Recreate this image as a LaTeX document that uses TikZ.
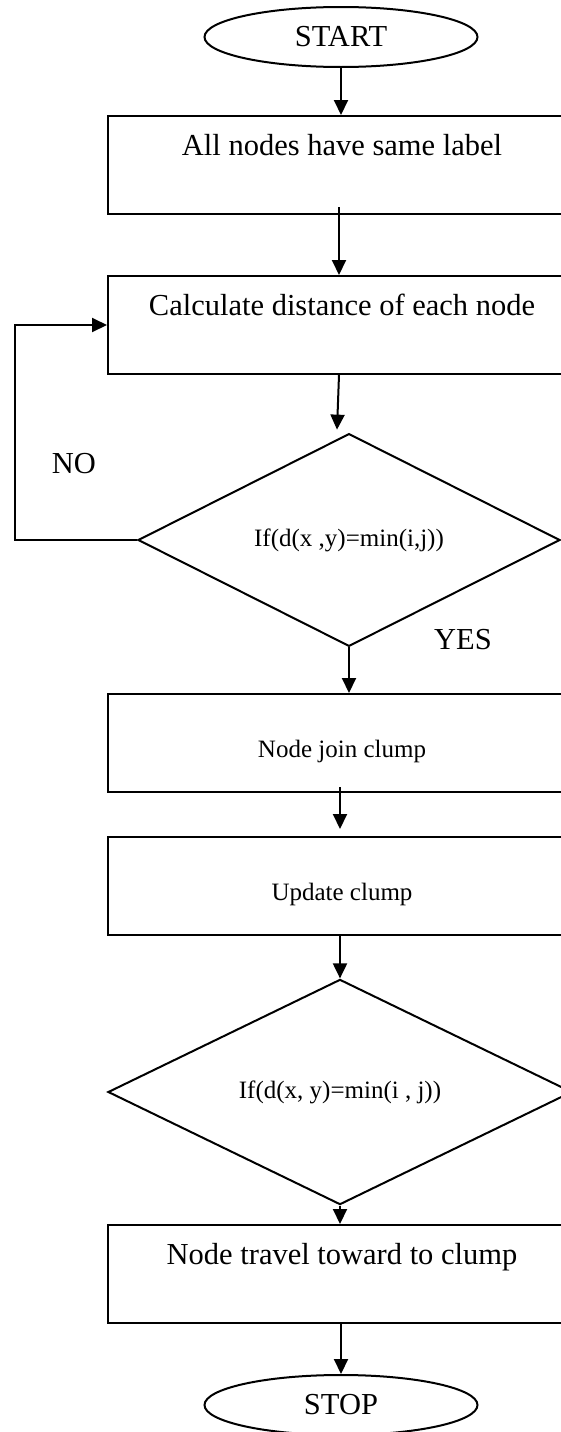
\documentclass[tikz,border=0pt]{standalone}
\usepackage{fontspec}
\setmainfont{Liberation Serif}
\usetikzlibrary{arrows.meta,shapes.geometric}
\begin{document}
\begin{tikzpicture}[x=1pt,y=-1pt,
  line width=2pt,
  arr/.style={-{Triangle[length=15pt,width=14pt]}},
  bigtxt/.style={font=\fontsize{30.5}{36}\selectfont},
  smalltxt/.style={font=\fontsize{25}{30}\selectfont},
  term/.style={draw, ellipse, minimum width=273pt, minimum height=60pt, inner sep=0pt, bigtxt},
  topbox/.style={draw, rectangle, minimum width=468pt, inner sep=0pt, text height=39pt, text depth=59pt, bigtxt, anchor=north},
  midbox/.style={draw, rectangle, minimum width=468pt, inner sep=0pt, text height=63pt, text depth=35pt, smalltxt, anchor=north},
  decision/.style={draw, diamond, inner sep=0pt, smalltxt},
  lab/.style={bigtxt, inner sep=0pt}
]
\useasboundingbox (0,0) rectangle (561,1432);
\clip (0,0) rectangle (561,1432);

\node[term] (start) at (341,37) {START};
\node[topbox] (b1) at (342,115) {All nodes have same label};
\node[topbox] (b2) at (342,275) {Calculate distance of each node};
\node[decision, minimum width=422pt, minimum height=207pt] (d1) at (349,540) {If(d(x ,y)=min(i,j))};
\node[midbox] (b3) at (342,693) {Node join clump};
\node[midbox] (b4) at (342,836) {Update clump};
\node[decision, minimum width=464pt, minimum height=208pt] (d2) at (340,1092) {If(d(x, y)=min(i , j))};
\node[topbox] (b5) at (342,1224) {Node travel toward to clump};
\node[term] (stop) at (341,1405) {STOP};

\node[lab] (no) at (74,464) {NO};
\node[lab] (yes) at (463,640) {YES};

\draw[arr] (start.south) -- (start.south |- b1.north);
\draw[arr] ([xshift=-3pt,yshift=8pt]b1.south) -- ([xshift=-3pt]b1.south |- b2.north);
\draw[arr] ([xshift=-3pt]b2.south) -- ([xshift=-12pt,yshift=3pt]d1.north);
\draw[arr] (d1.south) -- (d1.south |- b3.north);
\draw[arr] ([xshift=-2pt,yshift=6pt]b3.south) -- ([xshift=-2pt,yshift=7pt]b4.north);
\draw[arr] (d2.north |- b4.south) -- (d2.north);
\draw[arr] (d2.south) -- (d2.south |- b5.north);
\draw[arr] (stop.north |- b5.south) -- (stop.north);
\draw[arr] (d1.west) -- ++(-122pt,0) |- (b2.west);
\end{tikzpicture}
\end{document}
